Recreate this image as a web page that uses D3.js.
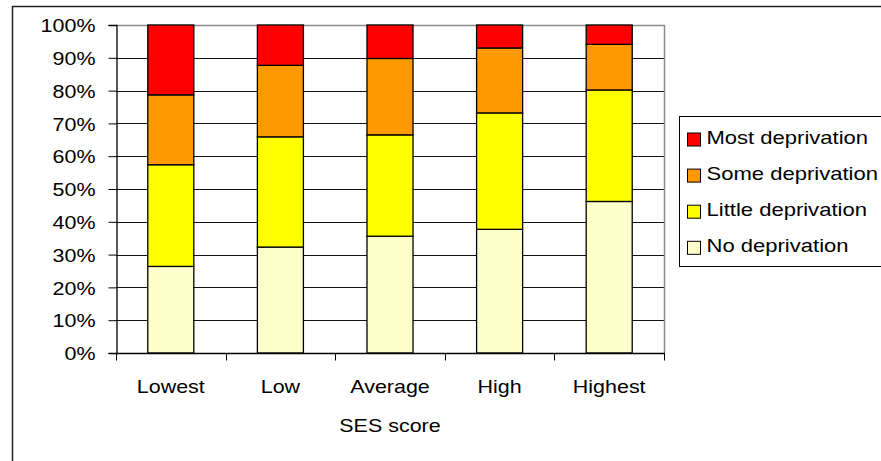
<!DOCTYPE html>
<html>
<head>
<meta charset="utf-8">
<script src="https://cdn.jsdelivr.net/npm/d3@7"></script>
<style>
  html, body { margin: 0; padding: 0; background: #fff; }
  svg { display: block; font-family: "Liberation Sans", Arial, sans-serif; }
</style>
</head>
<body>
<svg id="chart" width="881" height="461"></svg>
<script>
// SES score groups
const categories = ["Lowest", "Low", "Average", "High", "Highest"];

// Share of each deprivation level within a group (%)
const noDeprivation     = [26.4, 32.3, 35.6, 37.7, 46.2];
const littleDeprivation = [31.0, 33.6, 30.9, 35.5, 34.0];
const someDeprivation   = [21.3, 21.8, 23.3, 19.8, 13.9];
const mostDeprivation   = [21.3, 12.3, 10.2,  7.0,  5.9];

const seriesNames  = ["No deprivation", "Little deprivation", "Some deprivation", "Most deprivation"];
const seriesColors = ["#FFFFCC", "#FFFF00", "#FF9900", "#FF0000"];
const yTicks = [0, 10, 20, 30, 40, 50, 60, 70, 80, 90, 100];

const rows = categories.map((c, i) => ({
  cat: c,
  "No deprivation": noDeprivation[i],
  "Little deprivation": littleDeprivation[i],
  "Some deprivation": someDeprivation[i],
  "Most deprivation": mostDeprivation[i]
}));

// Text is set in a slightly wide face: 19px glyphs stretched horizontally
const FONT = "19px";
const AXIS_STRETCH = 1.13;
const LEGEND_STRETCH = 1.16;

const svg = d3.select("#chart");
const plot = { left: 116, right: 664, top: 25, bottom: 353 };

// Outer chart frame
svg.append("rect")
  .attr("x", 12.5).attr("y", 6.5)
  .attr("width", 900).attr("height", 500)
  .attr("fill", "none").attr("stroke", "#222").attr("stroke-width", 1.5);

const x = d3.scaleBand()
  .domain(categories)
  .range([plot.left, plot.right])
  .paddingInner(0.58)
  .paddingOuter(0.29);

const y = d3.scaleLinear().domain([0, 100]).range([plot.bottom, plot.top]);

// Horizontal gridlines
svg.append("g")
  .selectAll("line")
  .data(yTicks.filter(t => t > 0 && t < 100))
  .join("line")
  .attr("x1", plot.left).attr("x2", plot.right)
  .attr("y1", d => Math.round(y(d)) + 0.5).attr("y2", d => Math.round(y(d)) + 0.5)
  .attr("stroke", "#111").attr("stroke-width", 1);

// Plot area border (top and right)
svg.append("path")
  .attr("d", `M${plot.left},${plot.top + 0.5}H${plot.right + 0.5}V${plot.bottom}`)
  .attr("fill", "none").attr("stroke", "#8c8c8c").attr("stroke-width", 1.5);

// Stacked bars
const stack = d3.stack().keys(seriesNames)(rows);
const color = d3.scaleOrdinal().domain(seriesNames).range(seriesColors);

svg.append("g")
  .selectAll("g")
  .data(stack)
  .join("g")
  .attr("fill", d => color(d.key))
  .selectAll("rect")
  .data(d => d)
  .join("rect")
  .attr("x", d => x(d.data.cat))
  .attr("width", x.bandwidth())
  .attr("y", d => y(d[1]))
  .attr("height", d => y(d[0]) - y(d[1]))
  .attr("stroke", "#000").attr("stroke-width", 1.3);

// Y axis
const yAxis = svg.append("g")
  .attr("transform", `translate(${plot.left + 0.5},0)`)
  .call(d3.axisLeft(y).tickValues(yTicks).tickFormat(d => d + "%").tickSizeOuter(0).tickSize(8).tickPadding(10.6));
yAxis.select(".domain").attr("stroke", "#000").attr("stroke-width", 1.3);
yAxis.selectAll(".tick line").attr("stroke", "#000");
yAxis.selectAll(".tick text")
  .attr("fill", "#000")
  .attr("dy", "0.35em")
  .attr("transform", `scale(${AXIS_STRETCH},1)`)
  .style("font-size", FONT)
  .attr("font-family", null);

// X axis with tick marks between groups
const xAxisG = svg.append("g").attr("transform", `translate(0,${plot.bottom + 0.5})`);
xAxisG.append("line")
  .attr("x1", plot.left).attr("x2", plot.right + 1)
  .attr("stroke", "#000").attr("stroke-width", 1.3);
const boundaries = d3.range(categories.length + 1).map(i => plot.left + i * x.step());
xAxisG.selectAll("line.tk")
  .data(boundaries)
  .join("line").attr("class", "tk")
  .attr("x1", d => Math.round(d) + 0.5).attr("x2", d => Math.round(d) + 0.5)
  .attr("y1", 0).attr("y2", 7)
  .attr("stroke", "#000");
xAxisG.selectAll("text")
  .data(categories)
  .join("text")
  .attr("transform", d => `translate(${x(d) + x.bandwidth() / 2},39.5) scale(${AXIS_STRETCH},1)`)
  .attr("text-anchor", "middle")
  .style("font-size", FONT)
  .text(d => d);

// Axis title
svg.append("text")
  .attr("transform", `translate(${(plot.left + plot.right) / 2},432) scale(${AXIS_STRETCH},1)`)
  .attr("text-anchor", "middle")
  .style("font-size", FONT)
  .text("SES score");

// Legend (top entry is the top of the stack)
const legend = svg.append("g");
legend.append("rect")
  .attr("x", 679.5).attr("y", 116.5)
  .attr("width", 260).attr("height", 150)
  .attr("fill", "#fff").attr("stroke", "#000").attr("stroke-width", 1);
const legendItems = seriesNames.slice().reverse();
const li = legend.selectAll("g.item")
  .data(legendItems)
  .join("g").attr("class", "item")
  .attr("transform", (d, i) => `translate(0,${139.5 + i * 36.1})`);
li.append("rect")
  .attr("x", 687.5).attr("y", -6.5)
  .attr("width", 13).attr("height", 13)
  .attr("fill", d => color(d)).attr("stroke", "#000").attr("stroke-width", 1);
li.append("text")
  .attr("transform", `translate(706.5,4) scale(${LEGEND_STRETCH},1)`)
  .style("font-size", FONT)
  .text(d => d);
</script>
</body>
</html>
